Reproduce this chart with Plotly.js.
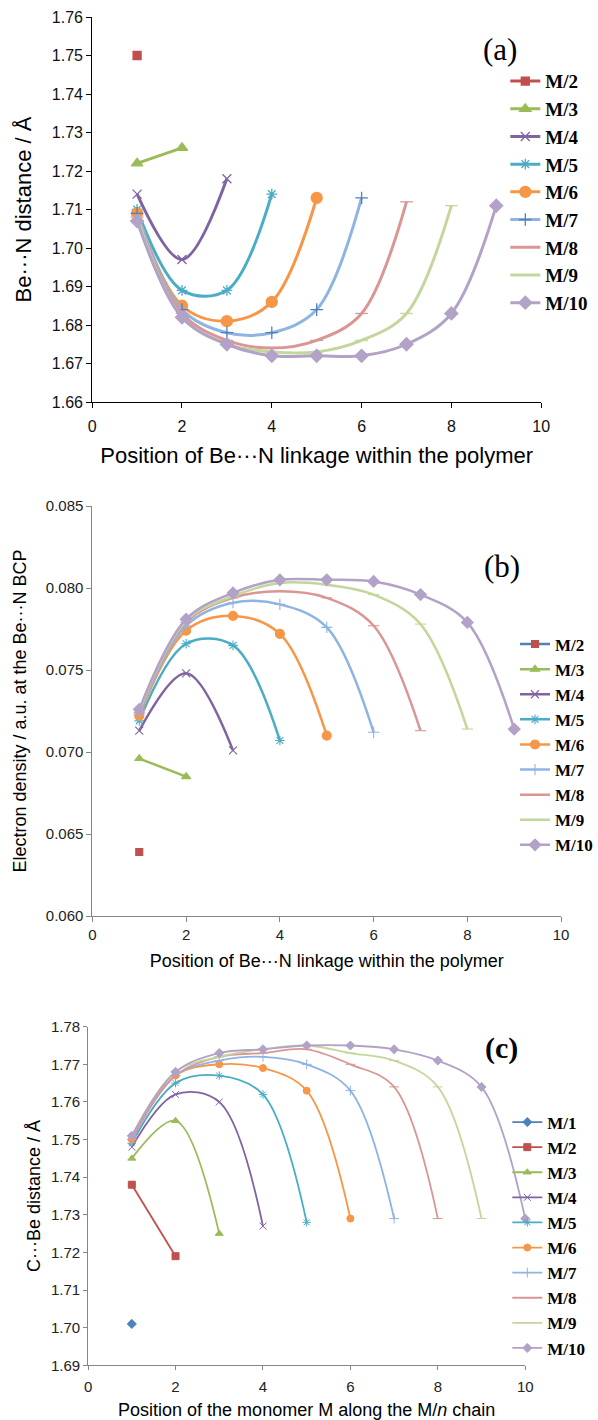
<!DOCTYPE html>
<html>
<head>
<meta charset="utf-8">
<script src="https://cdn.plot.ly/plotly-3.0.1.min.js"></script>
<style>
html,body{margin:0;padding:0;background:#fff;}
#chart{width:598px;height:1420px;}
</style>
</head>
<body>
<div id="chart"></div>
<script>
// ---------- data ----------
const positions = [1, 2, 3, 4, 5, 6, 7, 8, 9, 10];

// (a) Be...N distance (Å), series M/2 ... M/10
const labelsA = ['M/2', 'M/3', 'M/4', 'M/5', 'M/6', 'M/7', 'M/8', 'M/9', 'M/10'];
const beNDistance = [
  [1.750],
  [1.722, 1.726],
  [1.714, 1.697, 1.718],
  [1.710, 1.689, 1.689, 1.714],
  [1.709, 1.685, 1.681, 1.686, 1.713],
  [1.709, 1.684, 1.678, 1.678, 1.684, 1.713],
  [1.708, 1.683, 1.676, 1.674, 1.676, 1.683, 1.712],
  [1.708, 1.682, 1.675, 1.673, 1.673, 1.676, 1.683, 1.711],
  [1.707, 1.682, 1.675, 1.672, 1.672, 1.672, 1.675, 1.683, 1.711]
];

// (b) electron density at Be...N BCP (a.u.), series M/2 ... M/10
const labelsB = ['M/2', 'M/3', 'M/4', 'M/5', 'M/6', 'M/7', 'M/8', 'M/9', 'M/10'];
const bcpDensity = [
  [0.0639],
  [0.0696, 0.0685],
  [0.0713, 0.0748, 0.0701],
  [0.0719, 0.0766, 0.0765, 0.0707],
  [0.0722, 0.0774, 0.0783, 0.0772, 0.0710],
  [0.0723, 0.0777, 0.0791, 0.0790, 0.0776, 0.0712],
  [0.0724, 0.0779, 0.0794, 0.0798, 0.0794, 0.0777, 0.0713],
  [0.0725, 0.0780, 0.0795, 0.0803, 0.0802, 0.0796, 0.0778, 0.0714],
  [0.0726, 0.0781, 0.0797, 0.0805, 0.0805, 0.0804, 0.0796, 0.0779, 0.0714]
];

// (c) C...Be distance (Å), series M/1 ... M/10
const labelsC = ['M/1', 'M/2', 'M/3', 'M/4', 'M/5', 'M/6', 'M/7', 'M/8', 'M/9', 'M/10'];
const cBeDistance = [
  [1.701],
  [1.738, 1.719],
  [1.745, 1.755, 1.725],
  [1.748, 1.762, 1.760, 1.727],
  [1.749, 1.765, 1.767, 1.762, 1.728],
  [1.750, 1.767, 1.770, 1.769, 1.763, 1.729],
  [1.750, 1.767, 1.771, 1.772, 1.770, 1.763, 1.729],
  [1.750, 1.767, 1.772, 1.773, 1.774, 1.770, 1.764, 1.729],
  [1.751, 1.768, 1.772, 1.774, 1.775, 1.773, 1.771, 1.764, 1.729],
  [1.751, 1.768, 1.773, 1.774, 1.775, 1.775, 1.774, 1.771, 1.764, 1.729]
];

// ---------- styles (by chain length n) ----------
const seriesColors = {
  'M/1': '#4F81BD', 'M/2': '#C0504D', 'M/3': '#9BBB59', 'M/4': '#8064A2', 'M/5': '#4BACC6',
  'M/6': '#F79646', 'M/7': '#8EB4E3', 'M/8': '#D99694', 'M/9': '#C3D69B', 'M/10': '#B3A2C7'
};
const seriesSymbols = {
  'M/1': 'diamond', 'M/2': 'square', 'M/3': 'triangle-up', 'M/4': 'x-thin-open', 'M/5': 'asterisk-open',
  'M/6': 'circle', 'M/7': 'cross-thin-open', 'M/8': 'line-ew-open', 'M/9': 'line-ew-open', 'M/10': 'diamond'
};

function buildTraces(values, labels, xa, ya, legendId, st) {
  return values.map((ys, i) => {
    const name = labels[i];
    const col = seriesColors[name];
    const sym = seriesSymbols[name];
    const sz = (st.sizes[sym] !== undefined) ? st.sizes[sym] : st.size;
    const mcol = (st.markerColors && st.markerColors[name]) || col;
    const lcol = (st.lineColors && st.lineColors[name]) || col;
    return {
      type: 'scatter', mode: 'lines+markers', name: name,
      x: positions.slice(0, ys.length), y: ys,
      xaxis: xa, yaxis: ya, legend: legendId,
      line: {color: lcol, width: st.lw, shape: 'spline', smoothing: 1},
      marker: {symbol: sym, size: sz, color: mcol, line: {color: mcol, width: st.mlw}},
      cliponaxis: false, hoverinfo: 'x+y+name'
    };
  });
}

const traces = [].concat(
  buildTraces(beNDistance, labelsA, 'x', 'y', 'legend', {
    lw: 3, size: 9, mlw: 1.3,
    sizes: {'circle': 11, 'diamond': 10, 'square': 8, 'triangle-up': 10},
    markerColors: {'M/7': '#4F81BD'}
  }),
  buildTraces(bcpDensity, labelsB, 'x2', 'y2', 'legend2', {
    lw: 2.5, size: 8, mlw: 1.1,
    sizes: {'circle': 9, 'diamond': 9, 'square': 7, 'triangle-up': 8},
    lineColors: {'M/2': '#4F81BD'}
  }),
  buildTraces(cBeDistance, labelsC, 'x3', 'y3', 'legend3', {
    lw: 1.8, size: 7, mlw: 1,
    sizes: {'circle': 7, 'diamond': 7, 'square': 7, 'triangle-up': 7}
  })
);

// ---------- layout ----------
const W = 598, H = 1420;
const px = v => v / W;
const py = v => 1 - v / H;
const sans = 'Liberation Sans, Arial, sans-serif';
const serif = 'Liberation Serif, Times New Roman, serif';

function xAxis(dom, anchor, title, o) {
  return {
    domain: dom, anchor: anchor, range: [0, 10], tick0: 0, dtick: 2,
    showline: true, linecolor: o.lc, linewidth: 1, mirror: false,
    ticks: 'outside', ticklen: o.tl, tickcolor: o.lc, tickwidth: 1,
    ticklabelstandoff: o.xls,
    showgrid: false, zeroline: false,
    tickfont: {family: sans, size: o.tf, color: o.tc},
    title: {text: title, font: {family: sans, size: o.ttf, color: '#000'}, standoff: o.xs}
  };
}
function yAxis(dom, anchor, range, dtick, fmt, title, o) {
  return {
    domain: dom, anchor: anchor, range: range, dtick: dtick, tick0: range[0], tickformat: fmt,
    showline: true, linecolor: o.lc, linewidth: 1,
    ticks: 'outside', ticklen: o.tl, tickcolor: o.lc, tickwidth: 1,
    showgrid: false, zeroline: false,
    tickfont: {family: sans, size: o.tf, color: o.tc},
    title: {text: title, font: {family: sans, size: o.ttf, color: '#000'}, standoff: o.ys}
  };
}

const optA = {lc: '#000000', tl: 5, tf: 16, tc: '#111', ttf: 22, xs: 13, ys: 14, xls: 5};
const optB = {lc: '#868686', tl: 5, tf: 15, tc: '#222', ttf: 18, xs: 12, ys: 14, xls: 0};
const optC = {lc: '#868686', tl: 4, tf: 15, tc: '#222', ttf: 18, xs: 12, ys: 5, xls: 4};

const layout = {
  width: W, height: H,
  margin: {l: 0, r: 0, t: 0, b: 0, pad: 0},
  paper_bgcolor: '#ffffff', plot_bgcolor: '#ffffff',
  showlegend: true,
  xaxis: xAxis([px(92.5), px(543)], 'y', 'Position of Be···N linkage within the polymer', optA),
  yaxis: yAxis([py(402), py(17)], 'x', [1.66, 1.76], 0.01, '.2f', 'Be···N distance / Å', optA),
  xaxis2: xAxis([px(92.7), px(563)], 'y2', 'Position of Be···N linkage within the polymer', optB),
  yaxis2: yAxis([py(916), py(506)], 'x2', [0.060, 0.085], 0.005, '.3f', 'Electron density / a.u. at the Be···N BCP', optB),
  xaxis3: xAxis([px(88.4), px(527)], 'y3', 'Position of the monomer M along the M/<i>n</i> chain', optC),
  yaxis3: yAxis([py(1365.3), py(1026.7)], 'x3', [1.69, 1.78], 0.01, '.2f', 'C···Be distance / Å', optC),
  legend: {
    x: px(507), xanchor: 'left', y: py(62.2), yanchor: 'top',
    font: {family: serif, size: 19, color: '#000', weight: 'bold'},
    bgcolor: 'rgba(0,0,0,0)', borderwidth: 0, itemwidth: 30, tracegroupgap: 0
  },
  legend2: {
    x: px(517), xanchor: 'left', y: py(626.5), yanchor: 'top',
    font: {family: serif, size: 17, color: '#000', weight: 'bold'},
    bgcolor: 'rgba(0,0,0,0)', borderwidth: 0, itemwidth: 30, tracegroupgap: 0
  },
  legend3: {
    x: px(509), xanchor: 'left', y: py(1104.5), yanchor: 'top',
    font: {family: serif, size: 17, color: '#000', weight: 'bold'},
    bgcolor: 'rgba(0,0,0,0)', borderwidth: 0, itemwidth: 30, tracegroupgap: 0
  },
  annotations: [
    {text: '(a)', x: px(502), y: py(50), xref: 'paper', yref: 'paper', xanchor: 'center', yanchor: 'middle',
     showarrow: false, font: {family: serif, size: 31, color: '#000'}},
    {text: '(b)', x: px(504), y: py(566), xref: 'paper', yref: 'paper', xanchor: 'center', yanchor: 'middle',
     showarrow: false, font: {family: serif, size: 31, color: '#000'}},
    {text: '<b>(c)</b>', x: px(503), y: py(1048), xref: 'paper', yref: 'paper', xanchor: 'center', yanchor: 'middle',
     showarrow: false, font: {family: serif, size: 30, color: '#000'}}
  ]
};

Plotly.newPlot('chart', traces, layout, {displayModeBar: false, responsive: false});
</script>
</body>
</html>
